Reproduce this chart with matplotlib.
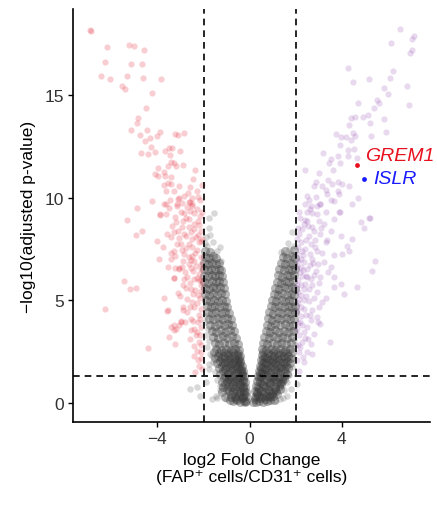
import matplotlib
matplotlib.use("Agg")
import matplotlib.pyplot as plt

plt.rcParams['font.family'] = ['Liberation Sans', 'DejaVu Sans']

# gene-level results: (log2 fold change, -log10 adj p)
gray_pts = [
    (-0.72,0.08),(-0.55,0.12),(-0.4,0.05),(-0.25,0.1),(-0.15,0.08),(0.16,0.06),(0.28,0.06),(0.42,0.1),(0.58,0.05),(0.74,0.09),(0.88,0.13),
    (-0.82,0.3),(-0.64,0.26),(-0.47,0.33),(-0.3,0.28),(-0.16,0.35),(0.22,0.27),(0.38,0.34),(0.55,0.28),(0.72,0.31),(0.9,0.27),(1.02,0.33),
    (-0.9,0.55),(-0.74,0.5),(-0.57,0.58),(-0.4,0.52),(-0.24,0.57),(-0.16,0.53),(0.22,0.56),(0.32,0.5),(0.5,0.58),(0.66,0.52),(0.83,0.57),(1.0,0.5),(1.16,0.55),
    (-0.95,0.8),(-0.78,0.76),(-0.6,0.83),(-0.43,0.78),(-0.27,0.84),(-0.19,0.79),(0.27,0.82),(0.38,0.77),(0.56,0.84),(0.73,0.78),(0.9,0.83),(1.08,0.77),(1.27,0.81),
    (-1.0,1.05),(-0.83,1.01),(-0.65,1.08),(-0.47,1.02),(-0.3,1.07),(-0.22,1.03),(0.33,1.06),(0.45,1.0),(0.63,1.08),(0.82,1.02),(1.0,1.07),(1.2,1.01),(1.4,1.05),
    (-1.07,1.3),(-0.89,1.26),(-0.7,1.33),(-0.52,1.27),(-0.35,1.33),(-0.26,1.28),(0.38,1.31),(0.5,1.25),(0.69,1.33),(0.88,1.27),(1.07,1.32),(1.27,1.26),(1.47,1.3),
    (-1.14,1.55),(-0.95,1.51),(-0.76,1.58),(-0.57,1.52),(-0.39,1.57),(-0.3,1.53),(0.42,1.56),(0.54,1.5),(0.74,1.58),(0.93,1.52),(1.13,1.57),(1.33,1.51),(1.53,1.55),
    (-1.2,1.8),(-1.01,1.76),(-0.82,1.83),(-0.63,1.77),(-0.45,1.83),(-0.35,1.78),(0.46,1.81),(0.58,1.75),(0.78,1.83),(0.98,1.77),(1.18,1.82),(1.38,1.76),(1.58,1.8),
    (-1.28,2.05),(-1.09,2.01),(-0.89,2.08),(-0.69,2.02),(-0.5,2.08),(-0.4,2.03),(0.5,2.06),(0.62,2.0),(0.82,2.08),(1.02,2.02),(1.23,2.07),(1.43,2.01),(1.63,2.05),
    (-1.36,2.3),(-1.16,2.26),(-0.96,2.33),(-0.76,2.27),(-0.56,2.33),(-0.42,2.28),(0.52,2.31),(0.66,2.25),(0.87,2.33),(1.07,2.27),(1.28,2.32),(1.48,2.26),(1.68,2.3),
    (-1.46,2.6),(-1.25,2.56),(-1.04,2.63),(-0.83,2.57),(-0.62,2.63),(-0.46,2.58),(0.55,2.61),(0.7,2.55),(0.91,2.63),(1.12,2.57),(1.33,2.62),(1.54,2.56),(1.75,2.6),
    (-1.52,2.9),(-1.31,2.86),(-1.1,2.93),(-0.9,2.87),(-0.69,2.93),(-0.52,2.88),(0.58,2.91),(0.75,2.85),(0.96,2.93),(1.17,2.87),(1.38,2.92),(1.58,2.86),(1.78,2.9),
    (-1.58,3.2),(-1.38,3.16),(-1.17,3.23),(-0.97,3.17),(-0.77,3.23),(-0.6,3.18),(0.64,3.21),(0.82,3.15),(1.02,3.23),(1.22,3.17),(1.42,3.22),(1.62,3.16),(1.82,3.2),
    (-1.65,3.5),(-1.45,3.46),(-1.25,3.53),(-1.05,3.47),(-0.85,3.53),(-0.68,3.48),(0.7,3.51),(0.88,3.45),(1.08,3.53),(1.28,3.47),(1.48,3.52),(1.67,3.46),(1.86,3.5),
    (-1.7,3.8),(-1.51,3.76),(-1.32,3.83),(-1.12,3.77),(-0.93,3.83),(-0.76,3.78),(0.74,3.81),(0.92,3.75),(1.12,3.83),(1.32,3.77),(1.52,3.82),(1.71,3.76),(1.9,3.8),
    (-1.76,4.1),(-1.57,4.06),(-1.38,4.13),(-1.19,4.07),(-1.0,4.13),(-0.83,4.08),(0.79,4.11),(0.97,4.05),(1.17,4.13),(1.37,4.07),(1.56,4.12),(1.75,4.06),(1.93,4.1),
    (-1.8,4.4),(-1.62,4.36),(-1.44,4.43),(-1.25,4.37),(-1.07,4.43),(-0.9,4.38),(0.85,4.41),(1.03,4.35),(1.23,4.43),(1.42,4.37),(1.61,4.42),(1.79,4.36),(1.95,4.4),
    (-1.85,4.7),(-1.67,4.66),(-1.49,4.73),(-1.31,4.67),(-1.13,4.73),(-0.97,4.68),(0.91,4.71),(1.09,4.65),(1.28,4.73),(1.47,4.67),(1.66,4.72),(1.83,4.66),(1.97,4.7),
    (-1.88,5.0),(-1.71,4.96),(-1.53,5.03),(-1.36,4.97),(-1.18,5.03),(-1.03,4.98),(0.98,5.01),(1.16,4.95),(1.35,5.03),(1.54,4.97),(1.72,5.02),(1.88,4.96),
    (-1.92,5.3),(-1.75,5.26),(-1.58,5.33),(-1.41,5.27),(-1.24,5.33),(-1.08,5.28),(1.05,5.31),(1.22,5.25),(1.41,5.33),(1.6,5.27),(1.78,5.32),(1.93,5.26),
    (-1.94,5.6),(-1.77,5.56),(-1.6,5.63),(-1.44,5.57),(-1.28,5.63),(-1.13,5.58),(1.11,5.61),(1.29,5.55),(1.48,5.63),(1.66,5.57),(1.83,5.62),(1.96,5.56),
    (-1.96,5.9),(-1.8,5.86),(-1.63,5.93),(-1.47,5.87),(-1.31,5.93),(-1.16,5.88),(1.17,5.91),(1.36,5.85),(1.55,5.93),(1.72,5.87),(1.88,5.92),
    (-1.97,6.2),(-1.81,6.16),(-1.65,6.23),(-1.5,6.17),(-1.34,6.23),(-1.2,6.18),(1.22,6.21),(1.41,6.15),(1.6,6.23),(1.77,6.17),(1.93,6.22),
    (-1.98,6.5),(-1.82,6.46),(-1.66,6.53),(-1.5,6.47),(-1.35,6.53),(-1.23,6.48),(1.28,6.51),(1.47,6.45),(1.65,6.53),(1.82,6.47),(1.96,6.52),
    (-1.97,6.8),(-1.8,6.76),(-1.63,6.83),(-1.47,6.77),(-1.32,6.83),(1.36,6.81),(1.55,6.75),(1.73,6.83),(1.9,6.77),
    (-1.95,7.1),(-1.78,7.06),(-1.6,7.13),(-1.45,7.07),(1.45,7.11),(1.64,7.05),(1.82,7.13),(1.96,7.07),
    (-1.92,7.4),(-1.72,7.36),(1.55,7.41),(1.93,7.45),
    # second, offset layer in the crowded base of the V
    (-1.2,0.5),(-1.05,0.3),(-0.85,0.15),(-0.6,0.2),(-0.35,0.22),(-0.2,0.05),(0.24,0.2),(0.45,0.22),(0.65,0.18),(0.82,0.35),(1.05,0.15),(1.2,0.45),(1.3,0.65),
    (-1.15,0.75),(-0.98,0.65),(-0.8,0.42),(-0.62,0.68),(-0.45,0.45),(-0.3,0.7),(-0.24,0.45),(0.3,0.42),(0.42,0.65),(0.6,0.43),(0.78,0.68),(0.95,0.42),(1.12,0.68),(1.38,0.9),
    (-1.22,1.0),(-1.05,0.9),(-0.9,1.15),(-0.72,0.93),(-0.55,1.17),(-0.4,0.93),(-0.3,1.18),(0.4,1.2),(0.52,0.92),(0.7,1.18),(0.9,0.95),(1.1,1.18),(1.3,0.95),(1.5,1.15),
    (-1.3,1.4),(-1.12,1.2),(-0.95,1.42),(-0.78,1.2),(-0.6,1.43),(-0.44,1.2),(-0.33,1.43),(0.45,1.44),(0.6,1.4),(0.8,1.45),(1.0,1.2),(1.2,1.44),(1.4,1.2),(1.6,1.42),
    (-1.35,1.68),(-1.05,1.65),(-0.86,1.68),(-0.68,1.65),(-0.5,1.68),(-0.38,1.66),(0.5,1.68),(0.66,1.65),(0.88,1.69),(1.08,1.66),(1.28,1.69),(1.48,1.66),(1.68,1.68),
    (-1.42,1.95),(-1.15,1.92),(-0.96,1.95),(-0.75,1.93),(-0.56,1.95),(-0.43,1.92),(0.55,1.94),(0.7,1.92),(0.92,1.95),(1.12,1.92),(1.33,1.95),(1.53,1.92),(1.73,1.95),
    (-1.5,2.2),(-1.25,2.18),(-1.05,2.2),(-0.85,2.18),(-0.65,2.2),(-0.47,2.17),(0.56,2.19),(0.75,2.17),(0.97,2.2),(1.18,2.17),(1.38,2.2),(1.58,2.17),(1.8,2.2),
    (-1.55,2.45),(-1.32,2.43),(-1.12,2.46),(-0.92,2.43),(-0.72,2.46),(-0.52,2.44),(0.6,2.45),(0.8,2.43),(1.0,2.46),(1.22,2.43),(1.43,2.46),(1.63,2.43),(1.85,2.46),
]

# isolated grey genes around the dense V
gray_sparse = [
    (-1.4,7.39),(1.78,7.23),(-1.84,7.64),(-1.6,7.85),(1.66,7.8),(1.93,7.64),
    (-1.77,8.52),(-1.7,8.2),(-1.26,6.91),(-1.55,9.26),(-1.77,9.0),(1.49,7.23),(1.85,8.3),(-1.9,8.1),
    (-2.57,0.65),(-2.28,0.76),(-1.62,0.19),(-1.4,0.23),(-1.04,0.19),(-1.77,1.65),(-1.62,2.3),(1.78,0.68),
    (1.64,0.35),(1.3,0.2),(1.15,0.1),(-2.15,0.35),(-1.9,1.0),(2.05,0.9),(-1.3,0.6),
    (-1.7,2.4),(-1.85,2.7),(-1.75,3.0),(-1.9,3.3),(-1.8,3.6),(-1.95,3.95),(-1.9,4.25),(-1.6,2.0),
    (-1.75,1.9),(-1.5,1.5),(-1.4,1.1),(-1.3,0.8),(-1.45,0.35),(1.95,2.8),(1.92,3.05),(1.97,3.5),
    (1.6,1.0),(1.7,1.35),(1.85,1.75),(1.9,2.2),(1.5,0.6),(1.45,0.25),(-1.7,6.9),(-1.3,7.6),
    (-1.95,7.8),(1.7,7.5),(1.35,7.35),
]

red_pts = [
    (-6.94,18.19),(-6.88,18.1),(-6.19,17.36),(-5.25,17.44),(-5.03,17.39),(-4.59,17.2),(-6.26,16.63),(-5.16,16.53),
    (-4.67,16.53),(-6.45,15.92),(-6.04,15.79),(-5.32,15.92),(-4.64,15.83),(-3.83,15.78),(-5.54,15.46),(-5.42,15.31),
    (-4.23,15.1),(-4.51,14.39),(-4.86,13.87),(-4.9,13.64),(-5.13,13.32),(-4.45,13.3),(-3.87,13.2),(-4.77,13.04),
    (-4.33,12.93),(-4.0,12.98),(-3.25,13.1),(-3.12,13.04),(-2.86,13.17),(-4.55,12.75),(-4.28,12.49),(-4.09,12.23),
    (-4.71,12.17),(-4.42,12.12),(-3.65,12.25),(-3.51,12.41),(-3.36,12.41),(-3.0,12.28),(-3.46,12.1),(-3.43,11.72),
    (-3.29,11.69),(-2.91,11.6),(-3.55,11.55),(-3.2,11.52),(-3.99,11.44),(-2.38,11.36),(-4.12,11.17),(-3.7,11.26),
    (-3.99,11.04),(-3.65,11.04),(-3.41,11.0),(-2.45,10.92),(-3.7,10.63),(-3.43,10.66),(-3.07,10.58),(-3.62,10.31),
    (-2.68,10.23),(-3.07,10.0),(-4.23,9.84),(-3.61,9.71),(-2.59,9.78),(-2.49,9.61),(-2.16,9.9),(-4.88,9.47),
    (-3.51,9.47),(-3.14,9.58),(-2.86,9.26),(-2.57,9.34),(-2.42,9.26),(-3.87,9.13),(-3.22,9.06),
    (-5.32,8.9),(-4.67,8.37),(-4.93,8.2),(-4.01,7.88),(-3.91,6.99),(-5.46,5.94),(-5.2,5.53),(-4.91,5.58),
    (-6.29,4.56),(-4.42,2.65),(-3.58,4.48),(-3.43,3.67),(-3.29,3.56),(-3.51,3.19),(-3.25,2.86),(-3.07,3.79),
    (-2.96,4.0),(-2.88,4.69),(-3.12,5.34),(-3.29,6.07),(-3.07,6.59),(-3.41,7.31),(-3.22,7.15),(-3.87,9.22),
    (-3.56,10.72),(-3.71,9.69),(-3.16,9.69),(-2.63,9.77),(-2.48,9.69),(-3.64,9.21),(-2.99,9.28),(-3.2,8.8),
    (-2.91,8.88),(-2.63,8.96),(-2.26,8.88),(-3.28,8.31),(-2.41,8.48),(-2.12,8.39),(-2.77,8.15),(-2.48,7.99),
    (-2.34,8.07),(-2.19,7.83),(-2.63,7.75),(-2.99,7.75),(-3.28,7.42),(-2.85,7.26),(-2.48,7.17),(-2.12,7.1),
    (-3.42,7.01),(-2.63,6.77),(-2.34,6.69),(-2.12,6.53),(-3.06,6.53),(-3.28,6.07),(-2.7,6.12),(-2.41,6.04),
    (-2.19,5.96),(-2.91,5.72),(-2.55,5.55),(-2.12,5.72),(-2.26,5.23),(-2.7,5.07),(-2.41,4.66),(-2.12,4.58),
    (-2.91,4.5),(-2.55,4.09),(-2.26,3.93),(-3.28,3.77),(-2.12,3.69),(-2.99,3.93),(-2.34,3.28),(-3.2,3.6),
    (-3.56,4.5),(-2.19,2.96),(-2.41,2.79),(-2.12,2.47),(-2.26,2.06),(-2.05,1.66),(-2.2,1.81),(-2.35,1.5),
    (-2.75,9.0),(-2.3,9.45),(-2.95,8.55),(-2.55,8.3),(-2.2,8.65),(-3.05,8.05),(-2.75,7.55),(-2.3,7.45),
    (-2.1,7.9),(-2.55,6.95),(-2.9,6.9),(-2.2,6.3),(-2.45,6.4),(-2.8,6.35),(-2.1,6.0),(-2.6,5.85),
    (-2.35,5.5),(-2.15,5.1),(-2.5,4.9),(-2.2,4.3),(-2.7,4.4),(-2.4,3.6),(-2.15,3.3),(-2.6,3.1),
    (-2.3,2.5),(-2.1,2.2),(-2.85,10.1),(-2.3,10.3),(-2.6,10.5),(-2.05,9.3),(-3.35,8.6),(-3.1,9.95),
    (-2.05,10.6),(-2.25,10.05),(-2.5,10.0),(-2.7,9.55),(-2.95,9.75),(-3.3,10.3),(-3.45,9.9),(-2.15,9.1),
    (-2.4,8.7),(-2.65,8.55),(-2.85,8.25),(-3.1,8.35),(-3.4,8.1),(-2.25,8.2),(-2.05,8.0),(-2.5,7.6),
    (-2.95,7.45),(-3.15,7.75),(-2.35,7.3),(-2.65,7.1),(-2.1,6.75),(-2.4,6.9),(-2.95,6.6),(-3.25,6.55),
    (-2.55,6.55),(-2.3,6.1),(-2.85,6.05),(-2.1,5.45),(-2.45,5.3),(-2.75,5.6),(-3.0,5.2),(-2.3,4.85),
    (-2.6,4.65),(-2.15,4.1),(-2.45,4.0),(-2.8,3.95),(-2.3,3.45),(-2.55,3.55),(-2.1,2.8),(-2.4,2.3),
    (-3.6,8.25),(-3.75,7.6),(-3.55,6.6),(-3.7,5.1),
]

purple_pts = [
    (6.54,18.22),(7.14,17.86),(7.06,17.73),(6.13,17.54),(7.06,17.22),(6.97,17.05),(4.25,16.33),(6.2,16.17),
    (4.49,15.63),(5.19,15.79),(6.1,15.81),(6.83,15.44),(5.84,15.32),(6.01,15.05),(5.52,14.76),(4.68,14.6),
    (5.62,14.6),(5.41,14.37),(6.91,14.51),(4.39,13.87),(4.58,13.92),(4.9,13.92),(5.14,14.03),(5.84,13.83),
    (4.32,13.54),(5.23,13.66),(3.75,13.1),(3.96,12.95),(4.17,12.95),(4.48,13.17),(4.57,13.0),(5.26,13.0),
    (5.91,13.2),(4.39,12.82),(3.93,12.57),(4.27,12.33),(4.54,12.36),(3.16,12.17),(3.52,11.88),(3.84,12.04),
    (4.25,12.01),(4.65,11.93),(3.45,11.68),(3.93,11.68),(3.6,11.36),(3.01,11.2),(2.39,11.33),(2.87,10.75),
    (3.38,10.87),(3.84,10.75),(3.3,10.39),(3.81,10.31),(4.32,10.55),(4.68,9.98),(2.58,9.9),(3.06,9.71),
    (3.52,9.9),(3.93,9.29),(2.72,9.26),(5.19,9.02),
    (2.78,10.58),(3.15,10.58),(3.58,10.67),(4.01,10.67),(2.5,10.1),(2.86,10.02),(3.36,10.18),(3.87,10.18),
    (2.67,9.61),(3.07,9.69),(3.65,9.85),(4.45,9.69),(2.5,9.28),(2.93,9.2),(3.29,9.28),(3.87,9.28),
    (3.0,8.88),(3.22,8.72),(3.65,8.96),(2.35,8.72),(2.71,8.56),(4.81,8.8),(5.21,8.99),(4.95,8.51),
    (2.14,8.23),(2.57,8.15),(3.07,8.23),(3.51,8.39),(3.94,8.15),(4.45,7.99),(2.21,7.83),(2.64,7.75),
    (3.29,7.83),(4.23,7.66),(2.28,7.42),(2.93,7.42),(3.65,7.18),(4.01,7.26),(4.3,7.42),(5.45,6.93),
    (5.31,6.44),(2.21,7.01),(2.71,7.01),(3.22,6.85),(3.51,6.61),(2.21,6.61),(2.5,6.53),(2.86,6.44),
    (2.28,6.2),(2.64,6.04),(3.07,6.12),(3.65,6.12),(3.94,5.8),(4.66,5.63),(3.65,5.63),(2.21,5.72),
    (2.57,5.55),(2.93,5.39),(4.08,5.31),(2.21,5.23),(2.57,4.98),(3.15,4.9),(2.21,4.66),(2.71,4.5),
    (3.0,4.66),(2.21,4.25),(2.64,4.01),(3.07,3.85),(2.28,3.77),(2.35,3.44),(2.78,3.36),(3.48,2.96),
    (2.28,2.96),(2.5,2.47),(2.71,2.39),(2.35,1.98),(2.14,2.47),(2.14,1.57),
    (2.1,6.9),(2.3,7.2),(2.1,7.6),(2.45,7.95),(2.1,8.5),(2.4,8.9),(2.15,9.3),(2.3,6.45),
    (2.1,6.0),(2.4,5.8),(2.1,5.4),(2.35,5.0),(2.1,4.85),(2.45,4.3),(2.1,3.9),(2.15,3.3),
    (2.55,3.1),(2.1,2.8),(2.85,7.95),(2.55,8.6),(2.9,9.6),(2.4,9.7),(2.75,6.8),(2.45,6.2),
    (2.05,8.0),(2.25,8.45),(2.5,8.85),(2.8,8.35),(3.1,8.5),(2.2,9.0),(2.6,9.45),(2.05,7.25),
    (2.4,7.5),(2.6,7.25),(2.85,7.6),(3.15,7.3),(2.05,6.65),(2.35,6.85),(2.6,6.7),(2.95,6.75),
    (2.2,6.35),(2.5,6.15),(2.8,6.25),(2.05,5.75),(2.35,5.55),(2.7,5.75),(3.0,5.85),(2.15,5.05),
    (2.45,5.2),(2.8,5.1),(2.05,4.45),(2.35,4.55),(2.6,4.3),(2.9,4.2),(2.2,3.95),(2.5,3.7),
    (2.05,3.6),(2.4,3.15),(2.65,2.85),(2.2,2.7),(2.05,2.1),(2.3,2.25),(3.35,7.95),(3.4,6.35),
    (3.3,5.1),(2.95,3.95),
]

grem1_pt = (4.65, 11.58)
islr_pt = (4.97, 10.9)

lfc_cut = 2
p_cut = 1.3  # -log10(0.05)

xticks = [-4, 0, 4]
xticklabels = ['\u22124', '0', '4']
yticks = [0, 5, 10, 15]

fig = plt.figure(figsize=(4.37, 5.06), dpi=100)
ax = fig.add_axes([0.167, 0.164, 0.817, 0.816])

gx, gy = zip(*gray_pts)
sx, sy = zip(*gray_sparse)
rx, ry = zip(*red_pts)
px, py = zip(*purple_pts)
ax.scatter(gx, gy, s=42, color='#383838', alpha=0.36, linewidths=0)
ax.scatter(sx, sy, s=22, color='#404040', alpha=0.2, linewidths=0)
ax.scatter(rx, ry, s=20, color='#e32333', alpha=0.22, linewidths=0)
ax.scatter(px, py, s=20, color='#8e44ad', alpha=0.2, linewidths=0)

ax.scatter([grem1_pt[0]], [grem1_pt[1]], s=12, color='#e8101f', linewidths=0, zorder=5)
ax.scatter([islr_pt[0]], [islr_pt[1]], s=12, color='#1a1aff', linewidths=0, zorder=5)
ax.text(5.0, 12.03, 'GREM1', color='#e8101f', fontsize=14, style='italic', va='center', ha='left')
ax.text(5.38, 10.91, 'ISLR', color='#1a1aff', fontsize=14, style='italic', va='center', ha='left')

for xv in (-lfc_cut, lfc_cut):
    ax.axvline(xv, color='black', lw=1.2, dashes=(4, 3))
ax.axhline(p_cut, color='black', lw=1.2, dashes=(4, 3))

ax.set_xlim(-7.66, 7.82)
ax.set_ylim(-0.94, 19.19)
ax.set_xticks(xticks)
ax.set_xticklabels(xticklabels)
ax.set_yticks(yticks)

for s in ('top', 'right'):
    ax.spines[s].set_visible(False)
for s in ('left', 'bottom'):
    ax.spines[s].set_linewidth(1.2)
ax.tick_params(axis='both', direction='out', length=3.5, width=1.0, labelsize=12.5, labelcolor='#333333', pad=3)

ax.set_xlabel('log2 Fold Change\n(FAP\u207a cells/CD31\u207a cells)', fontsize=12.5, labelpad=4)
ax.set_ylabel('\u2212log10(adjusted p-value)', fontsize=12.5, labelpad=6)

fig.savefig('out.png', dpi=100)
